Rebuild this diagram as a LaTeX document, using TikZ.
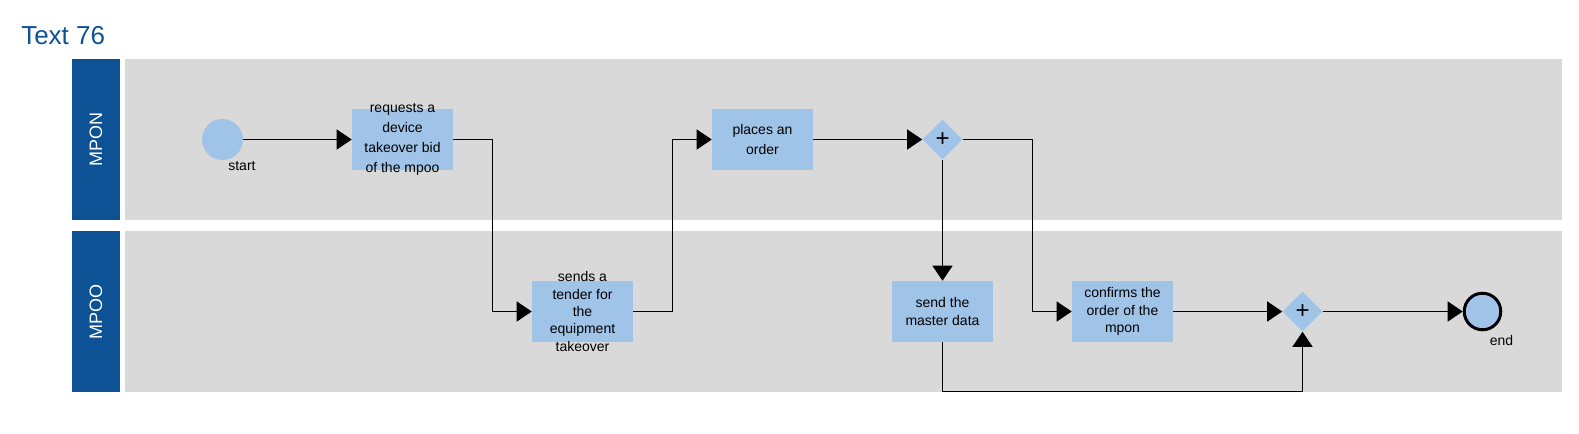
\documentclass[tikz,border=0pt]{standalone}
\usepackage{fontspec}
\setmainfont{Liberation Sans}
\usetikzlibrary{shapes.geometric}
\usetikzlibrary{arrows.meta}
\usetikzlibrary{positioning}
\definecolor{laneblue}{RGB}{13,82,148}
\definecolor{lanegray}{RGB}{217,217,217}
\definecolor{taskblue}{RGB}{160,196,232}
\tikzset{
	startevent/.style={circle, fill=taskblue, minimum size=30.75pt, inner sep=0pt},
	endevent/.style={circle, fill=taskblue, draw, line width=2.25pt, minimum size=27.4pt, inner sep=0pt},
	eventlabel/.style={font=\fontsize{10.5}{13}\selectfont, inner sep=1pt},
	task/.style={rectangle, fill=taskblue, minimum width=75.75pt, minimum height=45.75pt, inner sep=0pt},
	tasktext/.style={align=center, inner sep=0pt, font=\fontsize{10.5}{13}\selectfont},
	gateway/.style={diamond, fill=taskblue, minimum size=30pt, inner sep=0pt, font=\fontsize{18}{18}\selectfont},
	lanehead/.style={rectangle, fill=laneblue, text=white, rotate=90, minimum width=120.75pt, minimum height=36pt, inner sep=0pt, font=\fontsize{13.5}{16}\selectfont},
	lane/.style={fill=lanegray},
	title/.style={text=laneblue, inner sep=0pt, font=\fontsize{19.5}{23}\selectfont},
	arrow/.style={draw, -{Triangle[length=11.25pt, width=15pt]}, line width=0.75pt}
}

\begin{document}
\begin{tikzpicture}[x=0.75pt, y=-0.75pt, node distance=135pt, on grid]
\useasboundingbox (0,0) rectangle (1579,433);

\node[title, anchor=base west] (title) at (21,44) {Text 76};

% lanes
\fill[lane] (125,59) rectangle (1562,220);
\fill[lane] (125,231) rectangle (1562,392);
\node[lanehead] (mponhead) at (96,139.5) {MPON};
\node[lanehead] (mpoohead) at (96,311.5) {MPOO};

\node[startevent, label={[eventlabel, anchor=north, xshift=14.6pt]south:start}] (start) at (222.5,139.5) {};

\node[task, right = of start, label={[tasktext, font=\fontsize{10.5}{15}\selectfont]center:requests a\\device\\takeover bid\\of the mpoo}] (request) {};

\node[task, below right = 129pt and 135pt of request, label={[tasktext]center:sends a\\tender for\\the\\equipment\\takeover}] (tender) {};

\node[task, above right = 129pt and 135pt of tender, label={[tasktext, font=\fontsize{10.5}{15}\selectfont]center:places an\\order}] (order) {};

\node[gateway, right = of order] (split) {+};

\node[task, below = 129pt of split, label={[tasktext]center:send the\\master data}] (masterdata) {};

\node[task, right = of masterdata, label={[tasktext]center:confirms the\\order of the\\mpon}] (confirm) {};

\node[gateway, right = of confirm] (join) {+};

\node[endevent, right = of join, label={[eventlabel, anchor=north, xshift=14.25pt, yshift=-1.5pt]south:end}] (finish) {};

\draw [arrow] (start) -- (request);
\draw [arrow] (request.east) -- ++(39,0) |- (tender.west);
\draw [arrow] (tender.east) -- ++(39.5,0) |- (order.west);
\draw [arrow] (order) -- (split);
\draw [arrow] (split) -- (masterdata);
\draw [arrow] (split.east) -- ++(70,0) |- (confirm.west);
\draw [arrow] (confirm) -- (join);
\draw [arrow] (masterdata.south) -- ++(0,49.5) -| (join.south);
\draw [arrow] (join) -- (finish);

\end{tikzpicture}
\end{document}
